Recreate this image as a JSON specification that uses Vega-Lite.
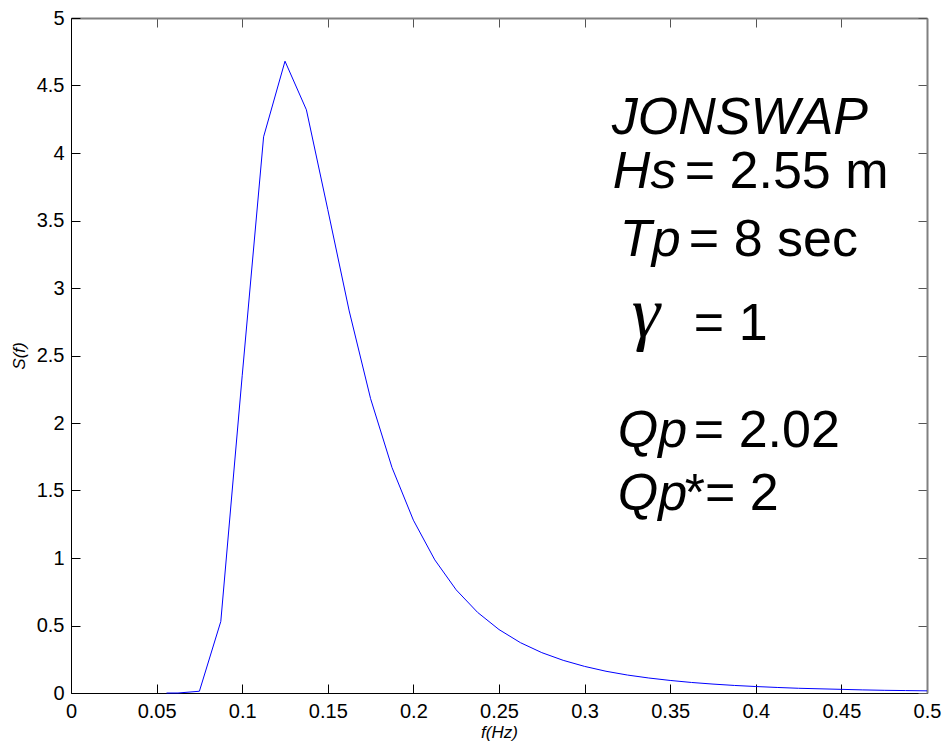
{
  "$schema": "https://vega.github.io/schema/vega-lite/v6.json",
  "autosize": {"type": "none"},
  "width": 856,
  "height": 675,
  "padding": {"left": 71, "top": 18, "right": 15, "bottom": 53},
  "background": "white",
  "config": {"view": {"stroke": null}, "font": "Liberation Sans"},
  "datasets": {
    "curve": [
      {"f": 0.0558, "S": 0.0},
      {"f": 0.0625, "S": 0.0},
      {"f": 0.075, "S": 0.013},
      {"f": 0.0875, "S": 0.53},
      {"f": 0.1, "S": 2.35},
      {"f": 0.1125, "S": 4.12},
      {"f": 0.125, "S": 4.68},
      {"f": 0.1375, "S": 4.32},
      {"f": 0.15, "S": 3.58},
      {"f": 0.1625, "S": 2.83},
      {"f": 0.175, "S": 2.18},
      {"f": 0.1875, "S": 1.67},
      {"f": 0.2, "S": 1.28},
      {"f": 0.2125, "S": 0.986},
      {"f": 0.225, "S": 0.764},
      {"f": 0.2375, "S": 0.597},
      {"f": 0.25, "S": 0.47},
      {"f": 0.2625, "S": 0.373},
      {"f": 0.275, "S": 0.299},
      {"f": 0.2875, "S": 0.242},
      {"f": 0.3, "S": 0.197},
      {"f": 0.3125, "S": 0.161},
      {"f": 0.325, "S": 0.133},
      {"f": 0.3375, "S": 0.111},
      {"f": 0.35, "S": 0.093},
      {"f": 0.3625, "S": 0.078},
      {"f": 0.375, "S": 0.066},
      {"f": 0.3875, "S": 0.056},
      {"f": 0.4, "S": 0.048},
      {"f": 0.4125, "S": 0.041},
      {"f": 0.425, "S": 0.035},
      {"f": 0.4375, "S": 0.031},
      {"f": 0.45, "S": 0.027},
      {"f": 0.4625, "S": 0.023},
      {"f": 0.475, "S": 0.02},
      {"f": 0.4875, "S": 0.018},
      {"f": 0.5, "S": 0.016}
    ],
    "italicText": [
      {"f": 0.3159, "S": 4.144, "label": "JONSWAP"},
      {"f": 0.3165, "S": 3.743, "label": "Hs"},
      {"f": 0.3206, "S": 3.24, "label": "Tp"},
      {"f": 0.3194, "S": 1.824, "label": "Qp"},
      {"f": 0.3194, "S": 1.357, "label": "Qp"}
    ],
    "plainText": [
      {"f": 0.3585, "S": 3.743, "label": "= 2.55 m"},
      {"f": 0.3609, "S": 3.24, "label": "= 8 sec"},
      {"f": 0.3638, "S": 2.617, "label": "= 1"},
      {"f": 0.3638, "S": 1.824, "label": "= 2.02"},
      {"f": 0.3585, "S": 1.357, "label": "*= 2"}
    ],
    "greekText": [
      {"f": 0.3276, "S": 2.64, "label": "γ"}
    ]
  },
  "layer": [
    {
      "data": {"name": "curve"},
      "mark": {"type": "line", "color": "#0000ff", "strokeWidth": 1},
      "encoding": {
        "x": {
          "field": "f", "type": "quantitative",
          "scale": {"domain": [0, 0.5], "nice": false, "zero": false},
          "axis": {
            "orient": "bottom",
            "values": [0, 0.05, 0.1, 0.15, 0.2, 0.25, 0.3, 0.35, 0.4, 0.45, 0.5],
            "format": "~g", "grid": false,
            "tickSize": -9, "labelPadding": 17, "labelFlush": false, "labelOverlap": false,
            "domainColor": "#000000", "tickColor": "#000000", "labelColor": "#000000",
            "labelFont": "Liberation Sans", "labelFontSize": 20,
            "title": "f(Hz)", "titleFont": "Liberation Sans", "titleFontSize": 17,
            "titleFontStyle": "italic", "titleFontWeight": "normal", "titleColor": "#000000",
            "titlePadding": 3
          }
        },
        "y": {
          "field": "S", "type": "quantitative",
          "scale": {"domain": [0, 5], "nice": false, "zero": false},
          "axis": {
            "orient": "left",
            "values": [0, 0.5, 1, 1.5, 2, 2.5, 3, 3.5, 4, 4.5, 5],
            "format": "~g", "grid": false,
            "tickSize": -9, "labelPadding": 16, "labelFlush": false, "labelOverlap": false,
            "domainColor": "#000000", "tickColor": "#000000", "labelColor": "#000000",
            "labelFont": "Liberation Sans", "labelFontSize": 20,
            "title": "S(f)", "titleFont": "Liberation Sans", "titleFontSize": 17,
            "titleFontStyle": "italic", "titleFontWeight": "normal", "titleColor": "#000000",
            "titlePadding": 8
          }
        }
      }
    },
    {
      "data": {"name": "curve"},
      "mark": {"type": "line", "strokeOpacity": 0},
      "encoding": {
        "x": {
          "field": "f", "type": "quantitative",
          "axis": {
            "orient": "top",
            "values": [0, 0.05, 0.1, 0.15, 0.2, 0.25, 0.3, 0.35, 0.4, 0.45, 0.5],
            "labels": false, "title": null, "grid": false,
            "tickSize": -9, "domainColor": "#808080", "domainWidth": 2, "tickColor": "#555555"
          }
        },
        "y": {
          "field": "S", "type": "quantitative",
          "axis": {
            "orient": "right",
            "values": [0, 0.5, 1, 1.5, 2, 2.5, 3, 3.5, 4, 4.5, 5],
            "labels": false, "title": null, "grid": false,
            "tickSize": -9, "domainColor": "#808080", "domainWidth": 2, "tickColor": "#555555"
          }
        }
      }
    },
    {
      "data": {"name": "italicText"},
      "mark": {"type": "text", "align": "left", "baseline": "alphabetic", "font": "Liberation Sans", "fontSize": 52, "fontStyle": "italic", "color": "#000000"},
      "encoding": {
        "x": {"field": "f", "type": "quantitative", "axis": null},
        "y": {"field": "S", "type": "quantitative", "axis": null},
        "text": {"field": "label"}
      }
    },
    {
      "data": {"name": "plainText"},
      "mark": {"type": "text", "align": "left", "baseline": "alphabetic", "font": "Liberation Sans", "fontSize": 52, "color": "#000000"},
      "encoding": {
        "x": {"field": "f", "type": "quantitative", "axis": null},
        "y": {"field": "S", "type": "quantitative", "axis": null},
        "text": {"field": "label"}
      }
    },
    {
      "data": {"name": "greekText"},
      "mark": {"type": "text", "align": "left", "baseline": "alphabetic", "font": "Liberation Serif", "fontSize": 72, "fontStyle": "italic", "color": "#000000"},
      "encoding": {
        "x": {"field": "f", "type": "quantitative", "axis": null},
        "y": {"field": "S", "type": "quantitative", "axis": null},
        "text": {"field": "label"}
      }
    }
  ],
  "resolve": {"axis": {"x": "independent", "y": "independent"}}
}
